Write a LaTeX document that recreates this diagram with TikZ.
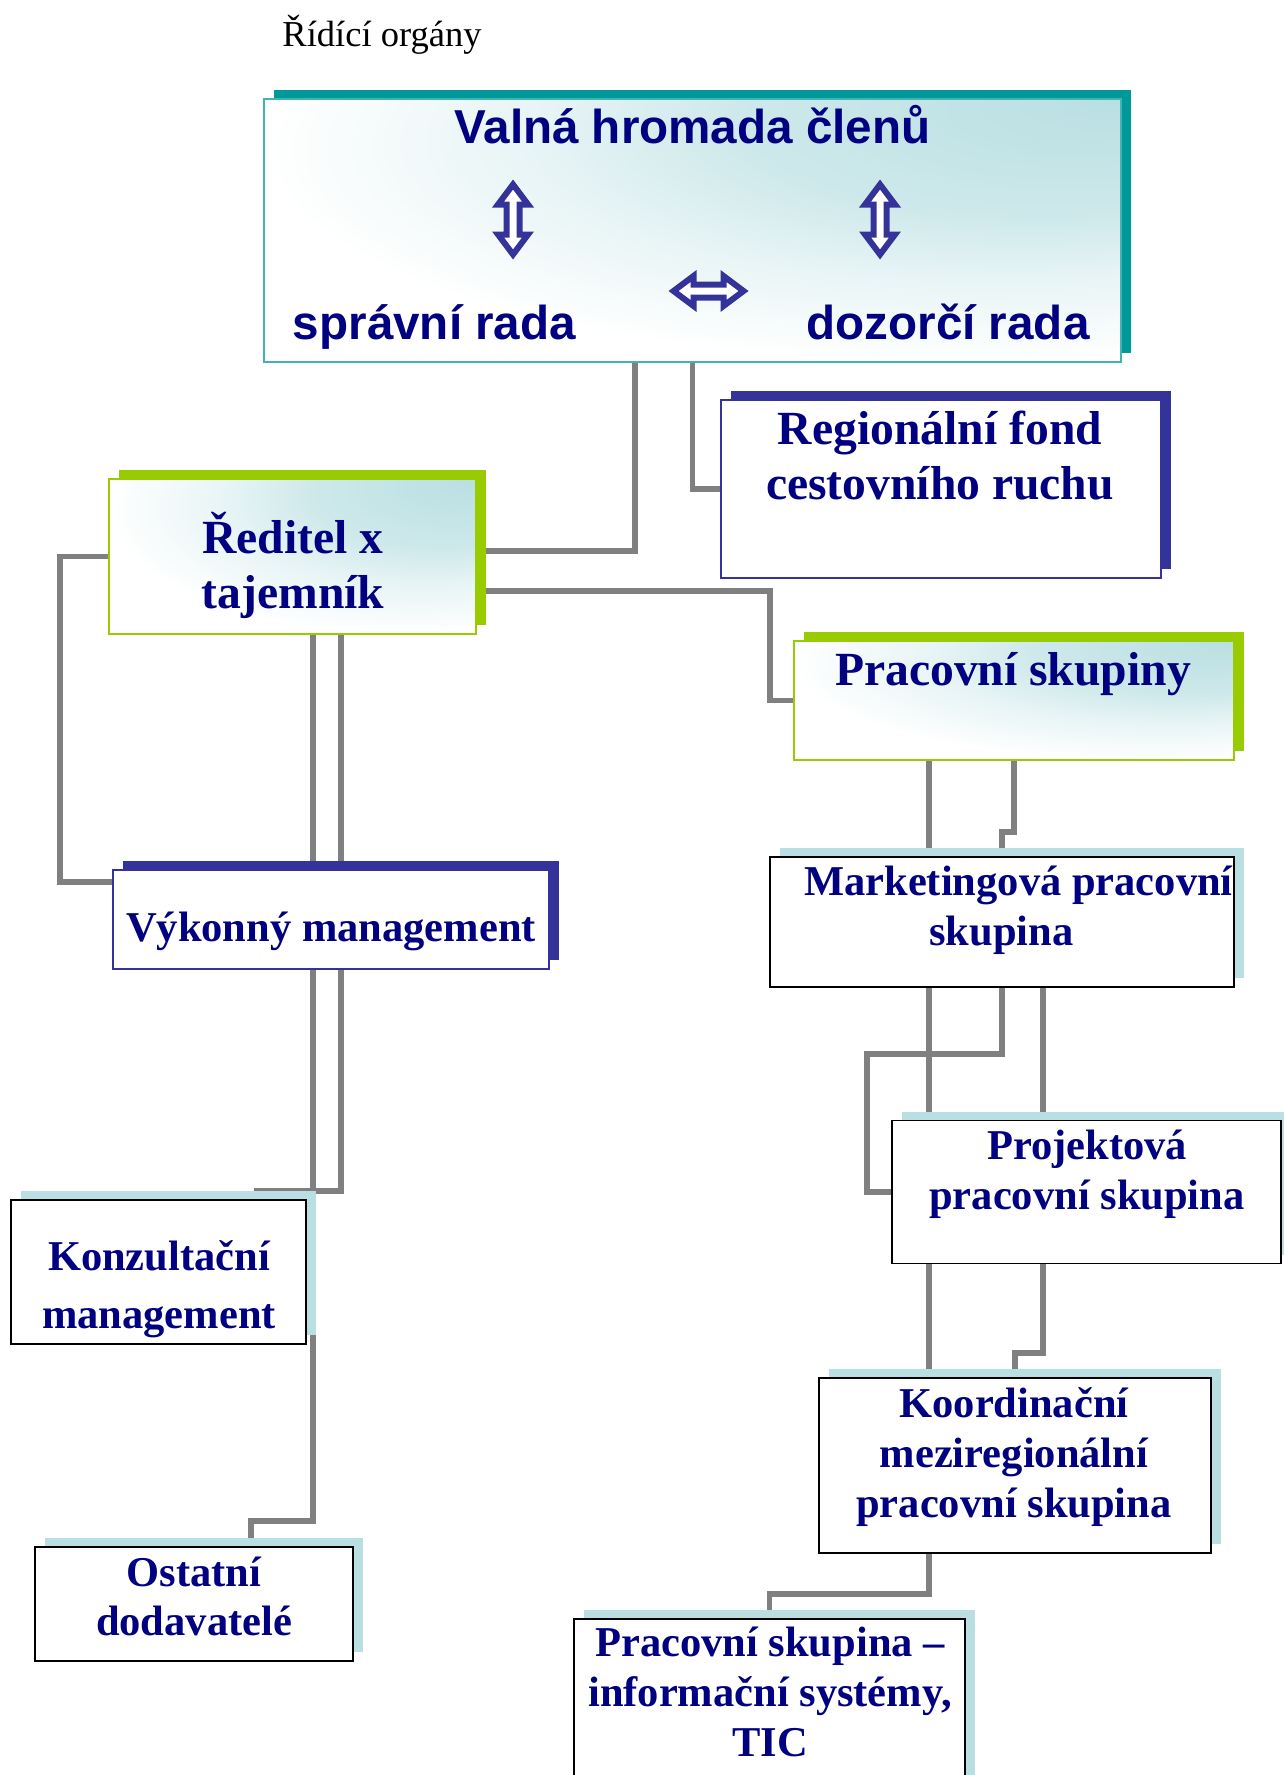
\documentclass[tikz,border=0pt]{standalone}
\usepackage{fontspec}
\setmainfont{Liberation Serif}
\setsansfont{Liberation Sans}
\usetikzlibrary{calc,shadows,backgrounds}

\definecolor{textnavy}{RGB}{0,0,128}
\definecolor{shadeteal}{RGB}{0,153,153}
\definecolor{edgeteal}{RGB}{64,180,180}
\definecolor{shadeblue}{RGB}{51,51,153}
\definecolor{shadegreen}{RGB}{153,204,0}
\definecolor{shadecyan}{RGB}{185,223,226}
\definecolor{linkgray}{RGB}{128,128,128}
\colorlet{glowmid}{shadecyan!70!white}
\colorlet{glowlight}{shadecyan!35!white}

% light corner glow, strongest top right
\pgfdeclareradialshading{glowshade}{\pgfpoint{25bp}{25bp}}{color(0bp)=(shadecyan); color(18bp)=(glowmid); color(27bp)=(glowlight); color(40bp)=(white); color(100bp)=(white)}

\tikzset{
	box/.style={rectangle, inner sep=0pt, outer sep=0pt, line width=1.6pt},
	shadowed/.style={general shadow={fill=#1, shadow xshift=10pt, shadow yshift=9pt}},
	glow/.style={shade, shading=glowshade},
	tealbox/.style={box, draw=edgeteal, glow, shadowed=shadeteal},
	greenbox/.style={box, draw=shadegreen, glow, shadowed=shadegreen},
	bluebox/.style={box, draw=shadeblue, fill=white, shadowed=shadeblue},
	plainbox/.style={box, draw=black, fill=white, shadowed=shadecyan},
	link/.style={draw=linkgray, line width=5.5pt},
	headtxt/.style={font=\sffamily\bfseries\fontsize{47.6}{55}\selectfont, text=textnavy, inner sep=0pt, anchor=base},
	bigtxt/.style={font=\bfseries\fontsize{47.6}{55}\selectfont, text=textnavy, inner sep=0pt, align=center},
	smalltxt/.style={font=\bfseries\fontsize{42.5}{50}\selectfont, text=textnavy, inner sep=0pt, align=center},
	dblarrow/.style={line width=6pt, draw=shadeblue, fill=white}
}

\def\bothwayarrow(#1)(#2){\begin{scope}[shift={(#1)}, rotate=#2]
	\draw[dblarrow] (0, -35) -- (15, -15) -- (6.5, -15) -- (6.5, 15) -- (15, 15) -- (0, 35) -- (-15, 15) -- (-6.5, 15) -- (-6.5, -15) -- (-15, -15) -- cycle;
	\end{scope}}

\begin{document}
\begin{tikzpicture}[x=1pt, y=-1pt]
			%%%%% START %%%%%
			\useasboundingbox (0, 0) rectangle (1283, 1775);
			
			\node[font=\fontsize{36.5}{41}\selectfont, inner sep=0pt, anchor=base] (organy) at (382, 46) {Řídící orgány};
			
			% boxes
			\node[tealbox, minimum width=857, minimum height=263] (valna) at (692.5, 230.5) {};
			\node[bluebox, minimum width=440, minimum height=178] (fond) at (941, 489) {};
			\node[greenbox, minimum width=367, minimum height=155] (reditel) at (292.5, 556.5) {};
			\node[greenbox, minimum width=440, minimum height=119] (skupiny) at (1014, 700.5) {};
			\node[bluebox, minimum width=436, minimum height=99] (vykonny) at (331, 919.5) {};
			\node[plainbox, minimum width=464, minimum height=130] (marketing) at (1002, 922) {};
			\node[plainbox, minimum width=389, minimum height=143] (projekt) at (1086.5, 1192) {};
			\node[plainbox, minimum width=295, minimum height=144] (konzult) at (158.5, 1272) {};
			\node[plainbox, minimum width=392, minimum height=175] (koord) at (1015, 1465.5) {};
			\node[plainbox, minimum width=318, minimum height=114] (ostatni) at (194, 1604) {};
			\node[plainbox, minimum width=391, minimum height=171] (psis) at (769.5, 1704.5) {};
			
			% texts
			\node[headtxt] (valna-t) at (692.5, 143) {Valná hromada členů};
			\node[headtxt] (spravni) at (434.5, 339) {správní rada};
			\node[headtxt] (dozorci) at (948, 339) {dozorčí rada};
			\node[bigtxt] (fond-t) at (940, 456) {Regionální fond\\cestovního ruchu};
			\node[bigtxt] (reditel-t) at (293, 565) {Ředitel x\\tajemník};
			\node[bigtxt, anchor=base] (skupiny-t) at (1013, 685) {Pracovní skupiny};
			\node[smalltxt, anchor=base] (vykonny-t) at (331, 941) {Výkonný management};
			\node[smalltxt] (marketing-t) at (1018.5, 910) {Marketingová pracovní\\skupina\kern34pt};
			\node[smalltxt] (projekt-t) at (1087, 1174) {Projektová\\pracovní skupina};
			\node[smalltxt, font=\bfseries\fontsize{42.5}{58}\selectfont] (konzult-t) at (159, 1289) {Konzultační\\management};
			\node[smalltxt] (koord-t) at (1014, 1457) {Koordinační\\meziregionální\\pracovní skupina};
			\node[smalltxt, font=\bfseries\fontsize{42.5}{49}\selectfont] (ostatni-t) at (194, 1596) {Ostatní\\dodavatelé};
			\node[smalltxt] (psis-t) at (770, 1691.5) {Pracovní skupina –\\informační systémy,\\TIC};
			
			% arrows in the top box
			\bothwayarrow(513, 219.5)(0)
			\bothwayarrow(880, 219.5)(0)
			\bothwayarrow(708.5, 291)(90)
			
			% connectors behind the boxes
			\begin{scope}[on background layer]
			\draw[link] ($(valna.south)+(-57.5, 0)$) |- ($(reditel.east)+(0, -5.5)$);
			\draw[link] (valna.south) |- (fond.west);
			\draw[link] ($(reditel.east)+(0, 34.5)$) -| ($(skupiny.west)+(-24, 0)$) -- (skupiny.west);
			\draw[link] (reditel.west) -- ++(-49, 0) |- ($(vykonny.west)+(0, -37.5)$);
			\draw[link] ($(reditel.south)+(20.5, 0)$) -- ($(vykonny.north)+(-18, 0)$);
			\draw[link] ($(reditel.south)+(48.5, 0)$) -- ($(vykonny.north)+(10, 0)$);
			\draw[link] ($(vykonny.south)+(10, 0)$) |- ($(konzult.north)+(95.5, -9)$);
			\draw[link] ($(vykonny.south)+(-18, 0)$) |- ($(ostatni.north)+(57, -26)$) -- ($(ostatni.north)+(57, 0)$);
			\draw[link] ($(skupiny.south)+(-85, 0)$) -- ($(marketing.north)+(-73, 0)$);
			\draw[link] (skupiny.south) |- ($(marketing.north)+(0, -25)$) -- (marketing.north);
			\draw[link] ($(marketing.south)+(-73, 0)$) -- ($(projekt.north)+(-157.5, 0)$);
			\draw[link] (marketing.south) -- ++(0, 67) -| ($(projekt.west)+(-25, 0)$) -- (projekt.west);
			\draw[link] ($(marketing.south)+(41, 0)$) -- ($(projekt.north)+(-43.5, 0)$);
			\draw[link] ($(projekt.south)+(-157.5, 0)$) -- ($(koord.north)+(-86, 0)$);
			\draw[link] ($(projekt.south)+(-43.5, 0)$) |- ($(koord.north)+(0, -25)$) -- (koord.north);
			\draw[link] ($(koord.south)+(-86, 0)$) |- ($(psis.north)+(0, -25)$) -- (psis.north);
			\end{scope}
			
			%%%%% END %%%%%
\end{tikzpicture}
\end{document}
